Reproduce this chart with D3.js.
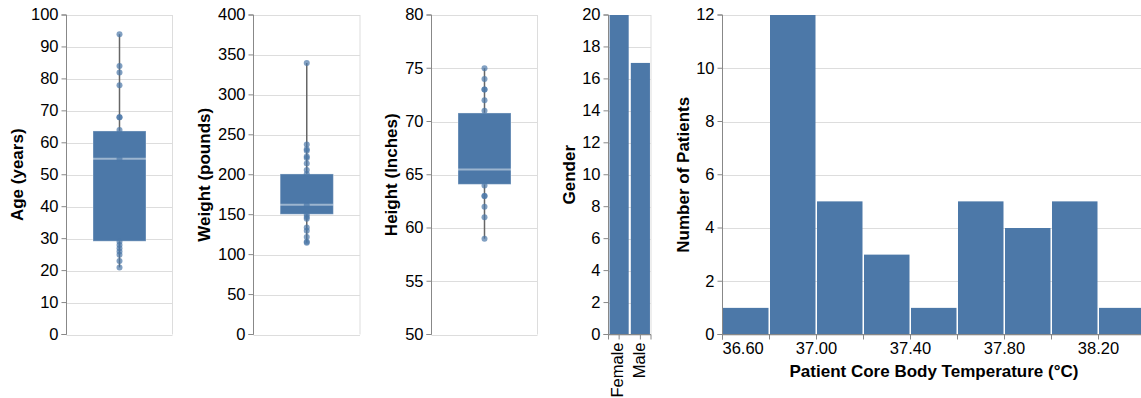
<!DOCTYPE html>
<html>
<head>
<meta charset="utf-8">
<script src="https://cdn.jsdelivr.net/npm/d3@7"></script>
<style>
  html, body { margin: 0; padding: 0; background: #fff; }
  svg { display: block; font-family: "Liberation Sans", Arial, Helvetica, sans-serif; }
</style>
</head>
<body>
<svg id="chart" width="1141" height="398"></svg>
<script>
// Patient summary data
// Box plot summaries: [min, Q1, median, Q3, max]
const ageStats = [21, 29.2, 55, 63.7, 94];
const weightStats = [115, 150.5, 162.5, 201, 340];
const heightStats = [59, 64.1, 65.5, 70.8, 75];

// Individual patient readings drawn over each box
const agePoints = [94, 84, 82, 78, 68, 68, 64, 55, 29, 28, 27, 26, 25, 23, 21];
const weightPoints = [340, 238, 232, 230, 223, 221, 214, 206, 201, 162, 150, 147, 145, 134, 130, 122, 116, 115];
const heightPoints = [75, 74, 73, 73, 72, 71, 64, 63, 63, 62, 61, 59];

// Gender counts
const genders = ["Female", "Male"];
const genderCounts = [20, 17];

// Core body temperature histogram (bin start, bin width 0.2 °C)
const tempBinStarts = [36.6, 36.8, 37.0, 37.2, 37.4, 37.6, 37.8, 38.0, 38.2];
const tempBinWidth = 0.2;
const tempCounts = [1, 12, 5, 3, 1, 5, 4, 5, 1];
const tempTickLabels = ["36.60", "37.00", "37.40", "37.80", "38.20"];

const BLUE = "#4c78a8";
const GRID = "#dddddd";
const AXIS = "#888888";
const TEXT = "#000000";
const LABEL_SIZE = 16.5;
const TITLE_SIZE = 17;

const svg = d3.select("#chart");
const TOP = 15, BOTTOM = 334.5;

function leftAxis(g, y, x0, width, ticks, fmt) {
  // grid
  g.append("g").selectAll("line").data(ticks).join("line")
    .attr("x1", x0).attr("x2", x0 + width)
    .attr("y1", d => Math.round(y(d)) + 0.5).attr("y2", d => Math.round(y(d)) + 0.5)
    .attr("stroke", GRID).attr("stroke-width", 1);
  const ax = g.append("g").attr("transform", `translate(${x0},0)`)
    .call(d3.axisLeft(y).tickValues(ticks).tickFormat(fmt || d3.format("d")).tickSize(5).tickPadding(3).offset(0));
  ax.select(".domain").attr("stroke", AXIS);
  ax.selectAll(".tick line").attr("stroke", AXIS);
  ax.selectAll(".tick text").attr("fill", TEXT).attr("font-size", LABEL_SIZE)
    .attr("font-family", "Liberation Sans, Arial, sans-serif");
  return ax;
}

function yTitle(g, text, cx) {
  g.append("text")
    .attr("transform", `translate(${cx},${(TOP + BOTTOM) / 2}) rotate(-90)`)
    .attr("text-anchor", "middle").attr("dominant-baseline", "middle")
    .attr("font-size", TITLE_SIZE).attr("font-weight", "bold").attr("fill", TEXT)
    .text(text);
}

function boxPanel(opts) {
  const { x0, width, domain, tickStep, stats, points, title, titleX } = opts;
  const g = svg.append("g");
  const y = d3.scaleLinear().domain(domain).range([BOTTOM, TOP]);
  const ticks = d3.range(domain[0], domain[1] + tickStep / 2, tickStep);
  // view frame (right edge)
  g.append("line").attr("x1", x0 + width).attr("x2", x0 + width)
    .attr("y1", TOP).attr("y2", BOTTOM).attr("stroke", GRID);
  leftAxis(g, y, x0, width, ticks);
  yTitle(g, title, titleX);

  const cx = x0 + width / 2;
  const bw = width * 0.5;
  const [mn, q1, med, q3, mx] = stats;
  // whisker
  g.append("line").attr("x1", cx).attr("x2", cx)
    .attr("y1", y(mn)).attr("y2", y(mx))
    .attr("stroke", "#666").attr("stroke-width", 1.5);
  // box
  g.append("rect")
    .attr("x", cx - bw / 2).attr("width", bw)
    .attr("y", y(q3)).attr("height", y(q1) - y(q3))
    .attr("fill", BLUE)
    .attr("stroke", "#ffffff").attr("stroke-opacity", 0.35).attr("stroke-width", 1);
  // median
  g.append("line").attr("x1", cx - bw / 2).attr("x2", cx + bw / 2)
    .attr("y1", y(med)).attr("y2", y(med))
    .attr("stroke", "#ffffff").attr("stroke-opacity", 0.45).attr("stroke-width", 2);
  // individual readings
  g.append("g").selectAll("circle").data(points).join("circle")
    .attr("cx", cx).attr("cy", d => y(d)).attr("r", 3)
    .attr("fill", BLUE).attr("fill-opacity", 0.7);
}

boxPanel({ x0: 66.5, width: 106, domain: [0, 100], tickStep: 10, stats: ageStats, points: agePoints, title: "Age (years)", titleX: 19 });
boxPanel({ x0: 253.5, width: 106.5, domain: [0, 400], tickStep: 50, stats: weightStats, points: weightPoints, title: "Weight (pounds)", titleX: 206 });
boxPanel({ x0: 431.5, width: 106, domain: [50, 80], tickStep: 5, stats: heightStats, points: heightPoints, title: "Height (Inches)", titleX: 392.5 });

// Gender bar chart
(function () {
  const g = svg.append("g");
  const x0 = 608.5, width = 42.5;
  const y = d3.scaleLinear().domain([0, 20]).range([BOTTOM, TOP]);
  const x = d3.scaleBand().domain(genders).range([x0, x0 + width]).paddingInner(0.1).paddingOuter(0.05);
  g.append("line").attr("x1", x0 + width).attr("x2", x0 + width)
    .attr("y1", TOP).attr("y2", BOTTOM).attr("stroke", GRID);
  leftAxis(g, y, x0, width, d3.range(0, 21, 2));
  yTitle(g, "Gender", 570.5);
  g.append("g").selectAll("rect").data(genders).join("rect")
    .attr("x", d => x(d)).attr("width", x.bandwidth())
    .attr("y", (d, i) => y(genderCounts[i])).attr("height", (d, i) => y(0) - y(genderCounts[i]))
    .attr("fill", BLUE);
  const ax = g.append("g").attr("transform", `translate(0,${BOTTOM})`)
    .call(d3.axisBottom(x).tickSize(5).tickPadding(2).offset(0));
  ax.select(".domain").attr("stroke", AXIS);
  ax.selectAll(".tick line").attr("stroke", AXIS);
  ax.selectAll(".tick text")
    .attr("font-size", LABEL_SIZE).attr("fill", TEXT)
    .attr("font-family", "Liberation Sans, Arial, sans-serif")
    .attr("transform", "rotate(-90)")
    .attr("text-anchor", "end").attr("dy", null)
    .attr("x", -8).attr("y", 0).attr("dominant-baseline", "middle");
})();

// Temperature histogram
(function () {
  const g = svg.append("g");
  const x0 = 722.5;
  const lo = tempBinStarts[0];
  const hi = tempBinStarts[tempBinStarts.length - 1] + tempBinWidth;
  const x = d3.scaleLinear().domain([lo, hi]).range([x0, x0 + 423]);
  const y = d3.scaleLinear().domain([0, 12]).range([BOTTOM, TOP]);
  leftAxis(g, y, x0, 423, d3.range(0, 13, 2));
  yTitle(g, "Number of Patients", 684.5);
  g.append("g").selectAll("rect").data(tempBinStarts).join("rect")
    .attr("x", d => x(d) + 0.5)
    .attr("width", d => x(d + tempBinWidth) - x(d) - 1.5)
    .attr("y", (d, i) => y(tempCounts[i]))
    .attr("height", (d, i) => y(0) - y(tempCounts[i]))
    .attr("fill", BLUE);
  const tickVals = d3.range(0, tempBinStarts.length + 1).map(i => lo + i * tempBinWidth);
  const ax = g.append("g").attr("transform", `translate(0,${BOTTOM})`)
    .call(d3.axisBottom(x).tickValues(tickVals).tickSize(5).tickPadding(3).offset(0)
      .tickFormat((d, i) => (i % 2 === 0 && tempTickLabels[i / 2]) ? tempTickLabels[i / 2] : ""));
  ax.select(".domain").attr("stroke", AXIS);
  ax.selectAll(".tick line").attr("stroke", AXIS);
  ax.selectAll(".tick text").attr("font-size", LABEL_SIZE).attr("fill", TEXT)
    .attr("font-family", "Liberation Sans, Arial, sans-serif")
    .attr("text-anchor", (d, i) => i === 0 ? "start" : "middle");
  g.append("text")
    .attr("x", x0 + 423 / 2).attr("y", 377)
    .attr("text-anchor", "middle").attr("font-size", TITLE_SIZE).attr("font-weight", "bold")
    .attr("fill", TEXT)
    .text("Patient Core Body Temperature (°C)");
})();
</script>
</body>
</html>
